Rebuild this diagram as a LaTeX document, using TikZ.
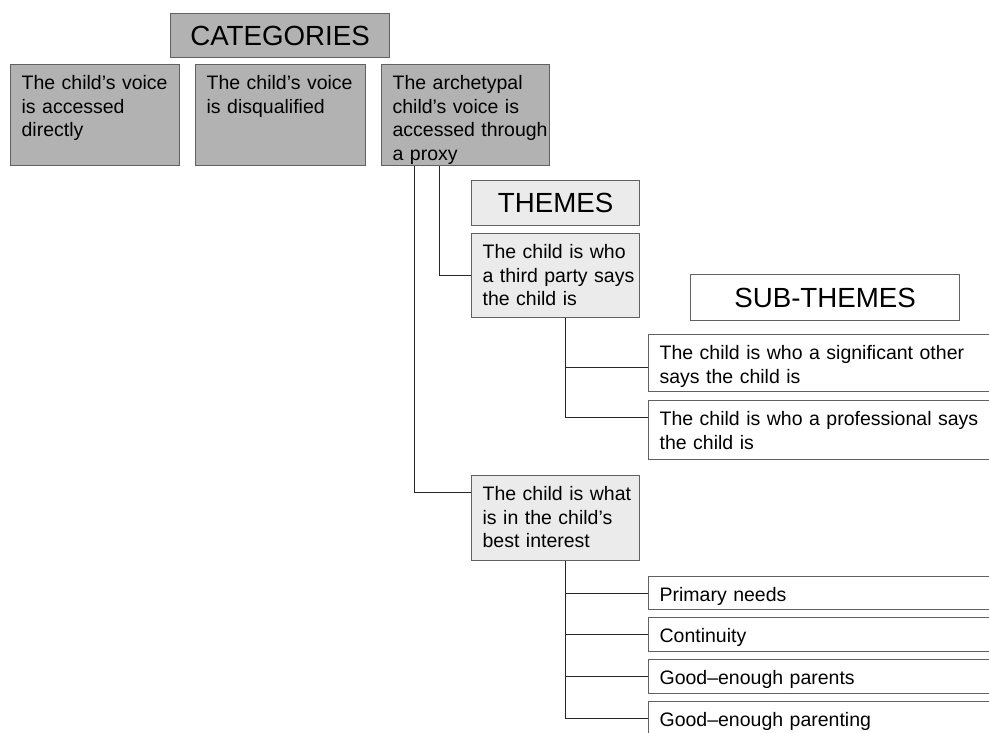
\documentclass[tikz,border=0pt]{standalone}
\usepackage{fontspec}
\setmainfont{Liberation Sans}
\usetikzlibrary{positioning}
\definecolor{catgray}{gray}{0.70}
\definecolor{themegray}{gray}{0.92}
\definecolor{boxline}{gray}{0.38}
\tikzset{
  base/.style={draw=boxline, line width=1.2pt, anchor=north west,
    inner sep=0pt, align=left, text height=25pt,
    execute at begin node={\leftskip=11pt\relax},
    font=\fontsize{19.5}{23.5}\selectfont},
  catbox/.style={base, fill=catgray},
  themebox/.style={base, fill=themegray, text width=168pt},
  subbox/.style={base, fill=white, text width=360pt},
  heading/.style={draw=boxline, line width=1.2pt, anchor=north west,
    inner sep=0pt, font=\fontsize{27.7}{30}\selectfont},
  link/.style={draw=black!85, line width=1pt}
}

\begin{document}
\begin{tikzpicture}[x=1pt, y=-1pt]
  \useasboundingbox (0,0) rectangle (989,733);

  % categories
  \node[heading, fill=catgray, minimum width=219pt, minimum height=44pt] (cat) at (170,13) {CATEGORIES};
  \node[catbox, text width=169pt, text depth=76pt] (direct) at (10,64) {The child’s voice\\is accessed\\directly};
  \node[catbox, text width=170pt, text depth=76pt] (disq) at (195,64) {The child’s voice\\is disqualified};
  \node[catbox, text width=168pt, text depth=76pt] (proxy) at (381,64) {The archetypal\\child’s voice is\\accessed through\\a proxy};

  % themes
  \node[heading, fill=themegray, minimum width=168pt, minimum height=45pt] (themes) at (471,180) {THEMES};
  \node[themebox, text depth=59pt] (third) at (471,233) {The child is who\\a third party says\\the child is};
  \node[themebox, text depth=60pt] (interest) at (471,475) {The child is what\\is in the child’s\\best interest};

  % sub-themes
  \node[heading, fill=white, minimum width=269pt, minimum height=46pt] (subthemes) at (690,274) {SUB-THEMES};
  \node[subbox, text depth=32pt] (other) at (648,334) {The child is who a significant other\\says the child is};
  \node[subbox, text depth=34pt] (prof) at (648,400) {The child is who a professional says\\the child is};
  \node[subbox, text depth=8pt] (needs) at (648,576) {Primary needs};
  \node[subbox, text depth=9pt] (cont) at (648,617) {Continuity};
  \node[subbox, text depth=9pt] (parents) at (648,659) {Good–enough parents};
  \node[subbox, text depth=9pt] (parenting) at (648,701) {Good–enough parenting};

  % connectors
  \draw[link] ([xshift=33pt]proxy.south west) |- ([yshift=-17pt]interest.north west);
  \draw[link] ([xshift=58pt]proxy.south west) |- (third.west);
  \draw[link] ([xshift=94pt]third.south west) |- ([yshift=-33pt]other.north west);
  \draw[link] ([xshift=94pt]third.south west) |- ([yshift=-17pt]prof.north west);
  \foreach \n in {needs,cont,parents,parenting}
    \draw[link] ([xshift=94pt]interest.south west) |- (\n.west);

\end{tikzpicture}
\end{document}
